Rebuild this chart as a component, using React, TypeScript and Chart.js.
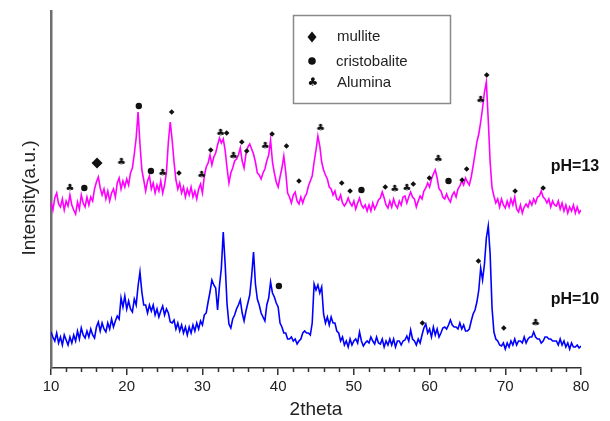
import React, { useEffect, useRef } from "react";
import { Chart, registerables } from "chart.js";

Chart.register(...registerables);

const FONT = '"Liberation Sans", Arial, Helvetica, sans-serif';

// XRD scan: 2theta from 10 to 80 degrees, 0.25 degree step
const SCAN_START = 10;
const SCAN_STEP = 0.25;

// pH = 13 sample (offset upward), one row per degree
const PH13: number[] = [
  166, 158, 170, 175, // 10
  164, 161, 169, 158, // 11
  167, 162, 173, 163, // 12
  158, 154, 166, 159, // 13
  173, 165, 161, 171, // 14
  163, 171, 167, 179, // 15
  186, 191, 180, 173, // 16
  179, 169, 177, 167, // 17
  175, 179, 171, 185, // 18
  190, 179, 187, 181, // 19
  189, 183, 195, 200, // 20
  214, 230, 256, 224, // 21
  198, 188, 177, 187, // 22
  192, 179, 185, 175, // 23
  183, 177, 187, 175, // 24
  183, 196, 226, 246, // 25
  228, 206, 188, 179, // 26
  185, 175, 181, 171, // 27
  179, 173, 181, 171, // 28
  177, 169, 179, 184, // 29
  175, 192, 201, 205, // 30
  213, 203, 211, 215, // 31
  223, 230, 225, 229, // 32
  218, 200, 185, 195, // 33
  200, 207, 209, 213, // 34
  220, 207, 200, 214, // 35
  221, 224, 219, 214, // 36
  206, 195, 193, 189, // 37
  195, 199, 207, 213, // 38
  228, 206, 195, 186, // 39
  181, 191, 200, 212, // 40
  196, 175, 171, 165, // 41
  173, 176, 167, 164, // 42
  171, 165, 171, 174, // 43
  182, 187, 192, 206, // 44
  218, 232, 222, 206, // 45
  198, 193, 189, 181, // 46
  179, 173, 177, 169, // 47
  168, 173, 165, 162, // 48
  165, 170, 165, 162, // 49
  167, 159, 165, 170, // 50
  163, 160, 163, 157, // 51
  163, 157, 165, 159, // 52
  163, 168, 170, 176, // 53
  170, 163, 160, 167, // 54
  161, 169, 163, 160, // 55
  167, 163, 171, 172, // 56
  165, 171, 176, 171, // 57
  169, 161, 167, 172, // 58
  169, 177, 180, 185, // 59
  181, 189, 194, 198, // 60
  190, 179, 177, 171, // 61
  169, 174, 169, 166, // 62
  173, 176, 171, 179, // 63
  182, 187, 183, 190, // 64
  186, 183, 191, 202, // 65
  214, 226, 234, 246, // 66
  260, 276, 286, 248, // 67
  206, 180, 172, 165, // 68
  169, 161, 169, 163, // 69
  160, 167, 161, 169, // 70
  163, 171, 159, 156, // 71
  163, 155, 161, 164, // 72
  161, 167, 163, 169, // 73
  165, 171, 172, 177, // 74
  171, 169, 165, 169, // 75
  161, 167, 163, 162, // 76
  167, 159, 165, 157, // 77
  163, 155, 161, 157, // 78
  163, 155, 161, 155, // 79
  158, // 80
];

// pH = 10 sample, one row per degree
const PH10: number[] = [
  36, 31, 27, 35, // 10
  25, 31, 23, 33, // 11
  28, 23, 31, 25, // 12
  33, 27, 37, 29, // 13
  40, 33, 30, 37, // 14
  31, 39, 33, 30, // 15
  41, 46, 37, 45, // 16
  39, 36, 45, 39, // 17
  49, 41, 47, 52, // 18
  49, 70, 61, 72, // 19
  59, 67, 59, 56, // 20
  69, 63, 82, 96, // 21
  76, 63, 63, 55, // 22
  63, 57, 63, 53, // 23
  59, 51, 57, 62, // 24
  53, 59, 55, 46, // 25
  45, 48, 39, 45, // 26
  37, 43, 35, 41, // 27
  33, 41, 35, 43, // 28
  37, 45, 39, 47, // 29
  43, 53, 55, 66, // 30
  76, 88, 83, 80, // 31
  58, 82, 100, 136, // 32
  104, 64, 44, 40, // 33
  49, 53, 59, 63, // 34
  68, 55, 47, 57, // 35
  65, 73, 92, 116, // 36
  84, 69, 63, 55, // 37
  51, 47, 63, 70, // 38
  86, 75, 71, 65, // 39
  61, 45, 41, 35, // 40
  35, 29, 29, 31, // 41
  27, 29, 24, 27, // 42
  29, 35, 37, 35, // 43
  35, 33, 45, 84, // 44
  78, 83, 75, 81, // 45
  54, 45, 51, 43, // 46
  51, 45, 45, 37, // 47
  35, 27, 31, 23, // 48
  27, 21, 29, 23, // 49
  27, 29, 25, 36, // 50
  27, 22, 25, 27, // 51
  25, 31, 27, 24, // 52
  31, 25, 24, 29, // 53
  21, 27, 23, 29, // 54
  23, 29, 21, 27, // 55
  27, 23, 27, 28, // 56
  32, 27, 38, 29, // 57
  27, 23, 29, 25, // 58
  33, 40, 44, 35, // 59
  39, 31, 41, 33, // 60
  39, 31, 35, 40, // 61
  41, 39, 43, 48, // 62
  43, 41, 41, 39, // 63
  45, 39, 43, 37, // 64
  37, 39, 47, 54, // 65
  58, 66, 78, 100, // 66
  88, 104, 130, 142, // 67
  114, 60, 36, 29, // 68
  27, 23, 22, 25, // 69
  19, 25, 21, 27, // 70
  23, 29, 23, 27, // 71
  27, 25, 31, 25, // 72
  29, 31, 31, 36, // 73
  31, 29, 29, 25, // 74
  27, 31, 31, 29, // 75
  29, 27, 27, 27, // 76
  23, 29, 23, 27, // 77
  21, 25, 19, 25, // 78
  21, 21, 23, 20, // 79
  22, // 80
];

// Phase identification marks: [2theta, intensity]
const MULLITE: [number, number][] = [
  [16.08, 205], [25.94, 256], [26.9, 195], [31.1, 218], [33.2, 235],
  [35.2, 226], [35.85, 217], [39.2, 234], [41.1, 222], [42.75, 187],
  [48.4, 185], [49.5, 177], [54.15, 181], [57.85, 184], [59.97, 190],
  [64.3, 188], [64.9, 199], [67.55, 293], [71.3, 177], [75.0, 180],
  [59.05, 45], [66.45, 107], [69.8, 40],
];
const MULLITE_SIZE: number[] = [
  5.5, 2.8, 2.8, 2.8, 2.8, 2.8, 2.8, 2.8, 2.8, 2.8, 2.8, 2.8,
  2.8, 2.8, 2.8, 2.8, 2.8, 2.8, 2.8, 2.8, 2.8, 2.8, 2.8,
];
const CRISTOBALITE: [number, number][] = [
  [14.4, 180], [21.6, 262], [23.2, 197], [51.0, 178], [62.5, 187], [40.1, 82],
];
const ALUMINA: [number, number][] = [
  [12.5, 180], [19.3, 206], [24.75, 195], [29.9, 193], [32.4, 235],
  [34.1, 212], [38.3, 222], [45.6, 240], [55.4, 179], [57.0, 180],
  [61.15, 209], [66.75, 268], [74.0, 45],
];

const LEGEND_LABELS = ["mullite", "cristobalite", "Alumina"];
const SAMPLE_LABELS: { text: string; x: number; y: number }[] = [
  { text: "pH=13", x: 76.0, y: 201 },
  { text: "pH=10", x: 76.0, y: 68 },
];

const X_MIN = 10;
const X_MAX = 80;
const Y_MIN = 0;
const Y_MAX = 357;

const toPoints = (vals: number[]) =>
  vals.map((y, i) => ({ x: SCAN_START + i * SCAN_STEP, y }));
const toMarks = (arr: [number, number][]) => arr.map(([x, y]) => ({ x, y }));

function makeClub(size: number, color: string): HTMLCanvasElement {
  const c = document.createElement("canvas");
  c.width = size;
  c.height = size;
  const g = c.getContext("2d")!;
  g.fillStyle = color;
  g.font = `${size}px "DejaVu Sans"`;
  g.textAlign = "center";
  g.textBaseline = "middle";
  g.fillText("\u2663", size / 2, size / 2 + 0.5);
  return c;
}

const decorPlugin = {
  id: "decor",
  afterDraw(chart: any) {
    const { ctx } = chart;
    const xs = chart.scales.x;
    const ys = chart.scales.y;
    ctx.save();

    // minor ticks on the 2theta axis
    ctx.strokeStyle = "#333";
    ctx.lineWidth = 1.5;
    for (let v = X_MIN + 2; v < X_MAX; v += 2) {
      if (v % 10 === 0) continue;
      const px = Math.round(xs.getPixelForValue(v)) + 0.5;
      ctx.beginPath();
      ctx.moveTo(px, xs.top);
      ctx.lineTo(px, xs.top + 4);
      ctx.stroke();
    }

    // y title
    ctx.fillStyle = "#222";
    ctx.font = `19px ${FONT}`;
    ctx.textAlign = "center";
    ctx.textBaseline = "middle";
    ctx.translate(30, 198);
    ctx.rotate(-Math.PI / 2);
    ctx.fillText("Intensity(a.u.)", 0, 0);
    ctx.setTransform(1, 0, 0, 1, 0, 0);

    // sample labels
    ctx.font = `bold 16px ${FONT}`;
    ctx.textAlign = "left";
    ctx.fillStyle = "#111";
    for (const s of SAMPLE_LABELS) {
      ctx.fillText(s.text, xs.getPixelForValue(s.x), ys.getPixelForValue(s.y));
    }

    // legend box
    ctx.strokeStyle = "#8a8a8a";
    ctx.lineWidth = 1.5;
    ctx.strokeRect(293.5, 15.5, 157, 88);

    ctx.fillStyle = "#111";
    // diamond
    ctx.beginPath();
    ctx.moveTo(312, 31.5);
    ctx.lineTo(316.5, 37);
    ctx.lineTo(312, 42.5);
    ctx.lineTo(307.5, 37);
    ctx.closePath();
    ctx.fill();
    // circle
    ctx.beginPath();
    ctx.arc(312, 61, 3.8, 0, Math.PI * 2);
    ctx.fill();
    // club
    ctx.drawImage(makeClub(12, "#111"), 307, 76);

    ctx.fillStyle = "#222";
    ctx.font = `15px ${FONT}`;
    ctx.textBaseline = "middle";
    ctx.fillText(LEGEND_LABELS[0], 337, 37);
    ctx.fillText(LEGEND_LABELS[1], 336, 62);
    ctx.fillText(LEGEND_LABELS[2], 337, 83);

    ctx.restore();
  },
};

export default function App() {
  const ref = useRef<HTMLCanvasElement | null>(null);

  useEffect(() => {
    if (!ref.current) return;
    const club = makeClub(10, "#111");
    const chart = new Chart(ref.current, {
      type: "scatter",
      data: {
        datasets: [
          {
            label: "mullite",
            data: toMarks(MULLITE),
            pointStyle: "rectRot",
            pointRadius: MULLITE_SIZE,
            backgroundColor: "#111",
            borderWidth: 0,
            order: 0,
          },
          {
            label: "cristobalite",
            data: toMarks(CRISTOBALITE),
            pointStyle: "circle",
            pointRadius: 3.2,
            backgroundColor: "#111",
            borderWidth: 0,
            order: 0,
          },
          {
            label: "Alumina",
            data: toMarks(ALUMINA),
            pointStyle: club,
            pointRadius: 5,
            order: 0,
          },
          {
            label: "pH=13",
            data: toPoints(PH13),
            showLine: true,
            borderColor: "#ff00ff",
            borderWidth: 1.6,
            pointRadius: 0,
            tension: 0,
            order: 1,
          },
          {
            label: "pH=10",
            data: toPoints(PH10),
            showLine: true,
            borderColor: "#0000ff",
            borderWidth: 1.6,
            pointRadius: 0,
            tension: 0,
            order: 1,
          },
        ],
      },
      options: {
        responsive: false,
        animation: false,
        devicePixelRatio: 1,
        layout: { padding: { left: 0, right: 29, top: 11, bottom: 0 } },
        plugins: {
          legend: { display: false },
          tooltip: { enabled: false },
        },
        scales: {
          x: {
            type: "linear",
            min: X_MIN,
            max: X_MAX,
            afterFit: (s: any) => {
              s.height = 53;
            },
            ticks: {
              stepSize: 10,
              autoSkip: false,
              maxRotation: 0,
              padding: 3,
              color: "#222",
              font: { family: FONT, size: 15 },
            },
            grid: {
              display: true,
              drawOnChartArea: false,
              drawTicks: true,
              tickLength: 7,
              color: "#333",
              lineWidth: 1.5,
            },
            border: { display: true, color: "#333", width: 1.5 },
            title: {
              display: true,
              text: "2theta",
              color: "#222",
              font: { family: FONT, size: 19 },
              padding: { top: 0, bottom: 0 },
            },
          },
          y: {
            type: "linear",
            min: Y_MIN,
            max: Y_MAX,
            afterFit: (s: any) => {
              s.width = 51;
            },
            ticks: { display: false },
            grid: { display: false },
            border: { display: true, color: "#6e6e6e", width: 2.5 },
          },
        },
      },
      plugins: [decorPlugin],
    });
    return () => chart.destroy();
  }, []);

  return (
    <div style={{ position: "fixed", left: 0, top: 0, width: 610, height: 421, background: "#fff" }}>
      <canvas ref={ref} width={610} height={421} style={{ display: "block" }} />
    </div>
  );
}
